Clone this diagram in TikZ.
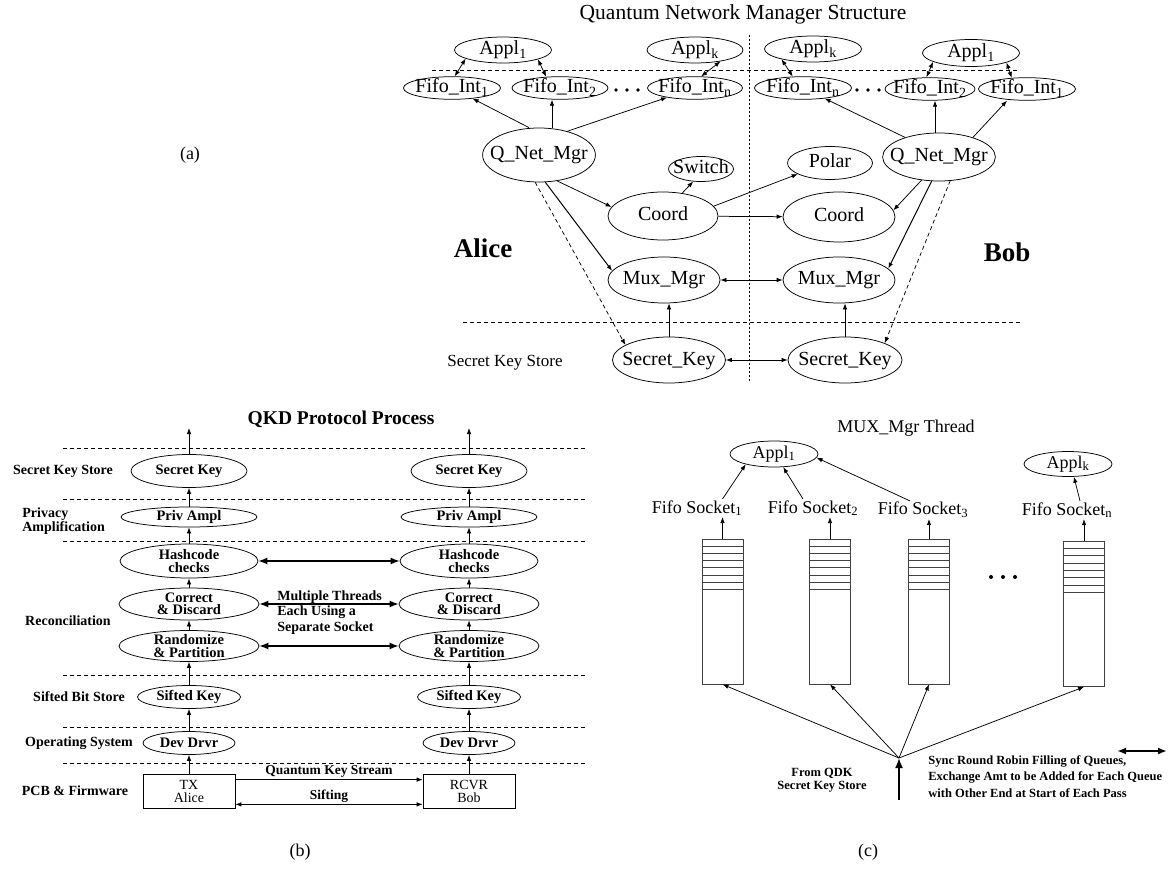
\documentclass[tikz,border=0pt]{standalone}
\usepackage{fontspec}
\setmainfont{Liberation Serif}
\usetikzlibrary{arrows.meta}
\usetikzlibrary{shapes.geometric}

\begin{document}
\begin{tikzpicture}[x=1pt, y=-1pt, >={Latex[length=6pt,width=4.5pt]}, line width=0.75pt,
  ovA/.style={ellipse, draw, inner xsep=-9pt, inner ysep=-1pt, text height=14pt, text depth=4pt, font=\fontsize{20}{22}\selectfont},
  ovB/.style={ellipse, draw, inner xsep=0pt, inner ysep=-2.5pt, align=center, font=\fontsize{14.5}{12.5}\selectfont\bfseries},
  ovC/.style={ellipse, draw, inner sep=0pt, text height=12pt, text depth=4pt, font=\fontsize{18}{20}\selectfont},
  sz/.style 2 args={minimum width=#1pt, minimum height=#2pt},
  lblB/.style={font=\fontsize{14}{12}\selectfont\bfseries, inner sep=0pt},
  sep/.style={dash pattern=on 4pt off 3pt, line width=0.6pt},
  boxB/.style={draw, minimum width=92pt, minimum height=34pt, inner sep=0pt, align=center, font=\fontsize{14}{13}\selectfont},
  queue/.style={draw=black!75, minimum width=41pt, minimum height=145pt, inner sep=0pt},
  sock/.style={font=\fontsize{18}{20}\selectfont, inner sep=1pt},
  bar/.style={{Latex[length=9pt,width=7pt]}-{Latex[length=9pt,width=7pt]}, line width=1.4pt},
  feedarr/.style={-{Latex[length=10pt,width=8pt]}, line width=1.8pt},
]
\useasboundingbox (0,0) rectangle (1175,877);

% (a) quantum network manager
\node[font=\fontsize{21.5}{24}\selectfont] (titleA) at (743,14) {Quantum Network Manager Structure};
\node[font=\fontsize{18}{20}\selectfont] (labA) at (190,155) {(a)};
\draw[sep] (432,70) -- (1020,70);
\draw[sep] (463,322) -- (1020,322);
\draw[dash pattern=on 2pt off 2pt, line width=0.6pt] (749,35) -- (749,382);

\node[ovA, sz={97}{26}] (ap1A) at (503,50) {Appl\textsubscript{1}};
\node[ovA, sz={96}{26}] (apkA) at (695,50) {Appl\textsubscript{k}};
\node[ovA, sz={97}{26}] (apkB) at (813,49) {Appl\textsubscript{k}};
\node[ovA, sz={97}{27}] (ap1B) at (971,53) {Appl\textsubscript{1}};
\node[ovA, sz={97}{22}] (fi1A) at (452,88) {Fifo\_Int\textsubscript{1}};
\node[ovA, sz={96}{22}] (fi2A) at (560,88) {Fifo\_Int\textsubscript{2}};
\node[ovA, sz={95}{22}] (fiNA) at (695,88) {Fifo\_Int\textsubscript{n}};
\node[ovA, sz={97}{22}] (fiNB) at (803,88) {Fifo\_Int\textsubscript{n}};
\node[ovA, sz={90}{22}] (fi2B) at (930,89) {Fifo\_Int\textsubscript{2}};
\node[ovA, sz={97}{22}] (fi1B) at (1027,89) {Fifo\_Int\textsubscript{1}};
\foreach \x in {616,627,638,857,868,879}
  \fill (\x,90) circle (1.8pt);

\node[ovA, sz={112}{54}] (qnmA) at (539,155) {Q\_Net\_Mgr};
\node[ovA, sz={112}{48}] (qnmB) at (939,157) {Q\_Net\_Mgr};
\node[ovA, sz={65}{25}] (swA) at (701,169) {Switch};
\node[ovA, sz={85}{33}] (polar) at (830,163) {Polar};
\node[ovA, sz={110}{48}] (coordA) at (663,216) {Coord};
\node[ovA, sz={112}{50}] (coordB) at (839,217) {Coord};
\node[ovA, sz={112}{46}] (muxA) at (664,280) {Mux\_Mgr};
\node[ovA, sz={112}{46}] (muxB) at (839,280) {Mux\_Mgr};
\node[ovA, sz={113}{46}] (skA) at (669,360) {Secret\_Key};
\node[ovA, sz={114}{46}] (skB) at (845,360) {Secret\_Key};

\draw[<->] (ap1A.193) -- (fi1A.77);
\draw[<->] (ap1A.345) -- (fi2A.141);
\draw[<->] (apkA.336) -- (fiNA.62);
\draw[<->] (apkB.198) -- (fiNB.132);
\draw[<->] (ap1B.193) -- (fi2B.107);
\draw[<->] (ap1B.345) -- (fi1B.144);

\draw[->] ([xshift=-10pt]qnmA.north) -- (fi1A);
\draw[->] ([xshift=13pt]qnmA.north) -- ([xshift=-8pt]fi2A.south);
\draw[->] (qnmA.40) -- (fiNA);
\draw[->] (qnmB.150) -- (fiNB);
\draw[->] ([xshift=-4pt]qnmB.north) -- ([xshift=5pt]fi2B.south);
\draw[->] (qnmB.30) -- ([xshift=-20pt]fi1B.south);

\draw[->] (qnmA.305) -- (coordA.170);
\draw[->, line width=1pt] (qnmA.283) -- (muxA.170);
\draw[->, dash pattern=on 4pt off 3pt] (qnmA.262) -- (skA.161);
\draw[->] (coordA.50) -- (swA.238);
\draw[->] (coordA.11) -- (polar.199);
\draw[->] (coordA) -- (coordB);
\draw[->] (qnmB.233) -- (coordB.7);
\draw[->, line width=1pt] (qnmB.253) -- (muxB.13);
\draw[->, dash pattern=on 4pt off 3pt] (qnmB.295) -- (skB.23);
\draw[<->] (muxA) -- (muxB);
\draw[<->] (skA) -- (skB);
\draw[->] (skA.north) -- (skA.north |- muxA.south);
\draw[->] (skB.north) -- (skB.north |- muxB.south);

\node[font=\fontsize{27}{30}\selectfont\bfseries] (alice) at (483,248) {Alice};
\node[font=\fontsize{27}{30}\selectfont\bfseries] (bob) at (1007,252) {Bob};
\node[font=\fontsize{17}{19}\selectfont] (skstA) at (505,363) {Secret Key Store};

% (b) QKD protocol process
\node[font=\fontsize{19.5}{22}\selectfont\bfseries] (titleB) at (341,419) {QKD Protocol Process};
\node[font=\fontsize{18}{20}\selectfont] (labB) at (300,852) {(b)};
\foreach \y in {448,499,541,675,727,763}
  \draw[sep] (63,\y) -- (587,\y);

\foreach \s/\x in {L/189,R/469}{
  \node[ovB, sz={116}{33}] (sk\s) at (\x,471) {Secret Key};
  \node[ovB, sz={136}{20}] (pa\s) at (\x,517) {Priv Ampl};
  \node[ovB, sz={138}{34}] (hc\s) at (\x,561) {Hashcode\\checks};
  \node[ovB, sz={140}{32}] (cd\s) at (\x,604) {Correct\\\& Discard};
  \node[ovB, sz={140}{31}] (rp\s) at (\x,646) {Randomize\\\& Partition};
  \node[ovB, sz={103}{23}] (sf\s) at (\x,697) {Sifted Key};
  \node[ovB, sz={92}{23}] (dd\s) at (\x,743) {Dev Drvr};
  \coordinate (out\s) at (\x,428);
  \draw[->] (sk\s) -- (out\s);
  \draw[->] (pa\s) -- (sk\s);
  \draw[->] (hc\s) -- (pa\s);
  \draw[->] (cd\s) -- (hc\s);
  \draw[->] (rp\s) -- (cd\s);
  \draw[->] (sf\s) -- (rp\s);
  \draw[->] (dd\s) -- (sf\s);
}
\node[boxB] (txL) at (189,791) {TX\\Alice};
\node[boxB] (rxR) at (469,791) {RCVR\\Bob};
\draw[->] (txL) -- (ddL);
\draw[->] (rxR) -- (ddR);
\draw[->] ([yshift=-6pt]txL.north east) -- node[above, lblB, font=\fontsize{13.5}{12}\selectfont\bfseries, inner sep=1.5pt] (qks) {Quantum Key Stream} ([yshift=-6pt]rxR.north west);
\draw[<->] ([yshift=4pt]txL.south east) -- node[above, lblB, font=\fontsize{13.5}{12}\selectfont\bfseries, inner sep=1.5pt] (sift) {Sifting} ([yshift=4pt]rxR.south west);
\draw[bar] (hcL) -- (hcR);
\draw[bar] (cdL) -- (cdR);
\draw[bar] (rpL) -- (rpR);
\node[lblB, anchor=north west, align=left, font=\fontsize{14}{15.5}\selectfont\bfseries] (mt) at (277,590) {Multiple Threads\\Each Using a\\Separate Socket};

\node[lblB] (lSK) at (63,471) {Secret Key Store};
\node[lblB, anchor=west, align=left] (lPA) at (22,521) {Privacy\\Amplification};
\node[lblB] (lRC) at (68,621) {Reconciliation};
\node[lblB] (lSB) at (79,697) {Sifted Bit Store};
\node[lblB] (lOS) at (79,743) {Operating System};
\node[lblB] (lPCB) at (75,791) {PCB \& Firmware};

% (c) mux manager thread
\node[font=\fontsize{18}{20}\selectfont] (titleC) at (906,428) {MUX\_Mgr Thread};
\node[font=\fontsize{18}{20}\selectfont] (labC) at (868,852) {(c)};
\node[ovC, sz={88}{26}] (a1C) at (774,454) {Appl\textsubscript{1}};
\node[ovC, sz={88}{25}] (akC) at (1068,464) {Appl\textsubscript{k}};
\foreach \n/\x/\y in {1/697/508, 2/813/508, 3/923/510, n/1067/510}
  \node[sock] (s\n) at (\x,\y) {Fifo Socket\textsubscript{\n}};
\coordinate (src) at (899,758);
\coordinate (feed) at (899,800);
\foreach \n/\x/\y in {1/722.5/611.5, 2/830/611.5, 3/929/611.5, n/1084/614}{
  \node[queue] (q\n) at (\x,\y) {};
  \foreach \i in {1,...,7}
    \draw[black!75] ([yshift={-7.3pt*\i}]q\n.north west) -- ([yshift={-7.3pt*\i}]q\n.north east);
  \draw[->] (q\n.north) -- (q\n.north |- s\n.south);
  \draw[->] (src) -- (q\n.south);
}
\draw[->] (s1.north -| q1.north) -- (a1C.200);
\draw[->] ([xshift=-10pt]s2.north) -- (a1C.305);
\draw[->] ([xshift=-13pt]s3.north) -- (a1C.355);
\draw[->] ([xshift=13pt]sn.north) -- (akC.295);
\foreach \x in {991,1003,1015}
  \fill (\x,577) circle (2pt);
\draw[feedarr] (feed) -- (src);
\node[font=\fontsize{12.5}{13.5}\selectfont\bfseries, align=center] (fromC) at (822,780) {From QDK\\Secret Key Store};
\node[font=\fontsize{12.5}{16.5}\selectfont\bfseries, align=left, anchor=north west, inner sep=0pt] (syncC) at (928,755) {Sync Round Robin Filling of Queues,\\Exchange Amt to be Added for Each Queue\\with Other End at Start of Each Pass};
\coordinate (lgA) at (1117,751);
\coordinate (lgB) at (1167,751);
\draw[bar, line width=1.8pt] (lgA) -- (lgB);
\end{tikzpicture}
\end{document}
